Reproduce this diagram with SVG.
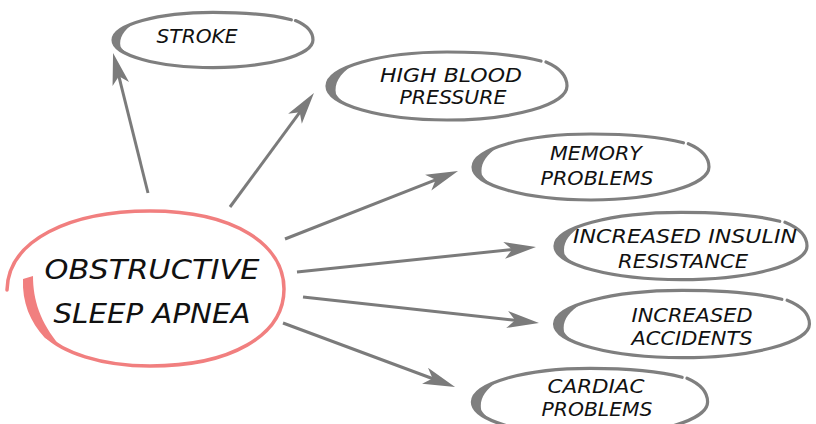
<svg xmlns="http://www.w3.org/2000/svg" xmlns:xlink="http://www.w3.org/1999/xlink" width="816" height="424" viewBox="0 0 816 424">
<style>
.lbl{font-family:"DejaVu Sans","Liberation Sans",sans-serif;font-style:italic;font-size:20px;fill:#111;text-anchor:middle}
.big{font-size:26px}
.ring{fill:none;stroke:#7f7f7f;stroke-width:3.2;stroke-linecap:round}
.ringfill{fill:#7f7f7f}
.conn{stroke:#7b7b7b;stroke-width:3;fill:none;marker-end:url(#ah)}
</style>
<defs>
<marker id="ah" markerUnits="userSpaceOnUse" markerWidth="40" markerHeight="20" viewBox="-14 -10 36 20" refX="0" refY="0" orient="auto">
<path d="M20,0 L-12,-8.5 L-4,0 L-12,8.5 Z" fill="#7b7b7b"/>
</marker>
<g id="brush">
<path class="ring" vector-effect="non-scaling-stroke" d="M99 -24 C113 -18 120 -10 120 0 A120 34 0 0 1 0 34 A120 34 0 0 1 -120 0 A120 34 0 0 1 0 -34 C40 -34 75 -30 94 -25"/>
<path class="ringfill" d="M-55 30.5 A120 34 0 0 1 -94 -21 C-108 -12 -113 -2 -111 8 C-105 19 -84 27 -55 30.5 Z"/>
</g>
</defs>
<rect width="816" height="424" fill="#fff"/>
<g id="connectors">
<line class="conn" x1="148" y1="193" x2="117.9" y2="72.4"/>
<line class="conn" x1="230" y1="207" x2="302.1" y2="109.1"/>
<line class="conn" x1="285" y1="239" x2="439.4" y2="178.3"/>
<line class="conn" x1="297" y1="272" x2="516.1" y2="249.1"/>
<line class="conn" x1="303" y1="297" x2="519.1" y2="320.8"/>
<line class="conn" x1="283" y1="323" x2="436.3" y2="380"/>
</g>
<g id="osa">
<path d="M7 290 C8 240 70 211 150 211 C235 211 284 245 284 289 C284 336 230 366 150 366 C100 366 62 352 45 335" fill="none" stroke="#f17f7f" stroke-width="3.5" stroke-linecap="round"/>
<path d="M45 338 C30 322 22 302 23 279 L33 276 C33 300 40 322 60 346 Z" fill="#f17f7f"/>
<text class="lbl big" x="152" y="279" textLength="215" lengthAdjust="spacingAndGlyphs">OBSTRUCTIVE</text>
<text class="lbl big" x="152" y="323" textLength="197" lengthAdjust="spacingAndGlyphs">SLEEP APNEA</text>
</g>
<g id="stroke">
<use xlink:href="#brush" transform="translate(213,40) scale(0.833,0.81)"/>
<text class="lbl" x="197" y="43" textLength="81" lengthAdjust="spacingAndGlyphs">STROKE</text>
</g>
<g id="hbp">
<use xlink:href="#brush" transform="translate(447,86)"/>
<text class="lbl" x="451" y="82" textLength="142" lengthAdjust="spacingAndGlyphs">HIGH BLOOD</text>
<text class="lbl" x="453" y="104" textLength="107" lengthAdjust="spacingAndGlyphs">PRESSURE</text>
</g>
<g id="memory">
<use xlink:href="#brush" transform="translate(591,167) scale(0.983,0.97)"/>
<text class="lbl" x="596" y="160" textLength="92" lengthAdjust="spacingAndGlyphs">MEMORY</text>
<text class="lbl" x="597" y="185" textLength="113" lengthAdjust="spacingAndGlyphs">PROBLEMS</text>
</g>
<g id="insulin">
<use xlink:href="#brush" transform="translate(681,246) scale(1.05,0.99)"/>
<text class="lbl" x="685" y="243" textLength="224" lengthAdjust="spacingAndGlyphs">INCREASED INSULIN</text>
<text class="lbl" x="683" y="268" textLength="130" lengthAdjust="spacingAndGlyphs">RESISTANCE</text>
</g>
<g id="accidents">
<use xlink:href="#brush" transform="translate(682,324) scale(1.062,0.99)"/>
<text class="lbl" x="692" y="322" textLength="121" lengthAdjust="spacingAndGlyphs">INCREASED</text>
<text class="lbl" x="692" y="345" textLength="121" lengthAdjust="spacingAndGlyphs">ACCIDENTS</text>
</g>
<g id="cardiac">
<use xlink:href="#brush" transform="translate(590,402) scale(0.98,0.99)"/>
<text class="lbl" x="596" y="393" textLength="97" lengthAdjust="spacingAndGlyphs">CARDIAC</text>
<text class="lbl" x="597" y="416" textLength="111" lengthAdjust="spacingAndGlyphs">PROBLEMS</text>
</g>
</svg>
